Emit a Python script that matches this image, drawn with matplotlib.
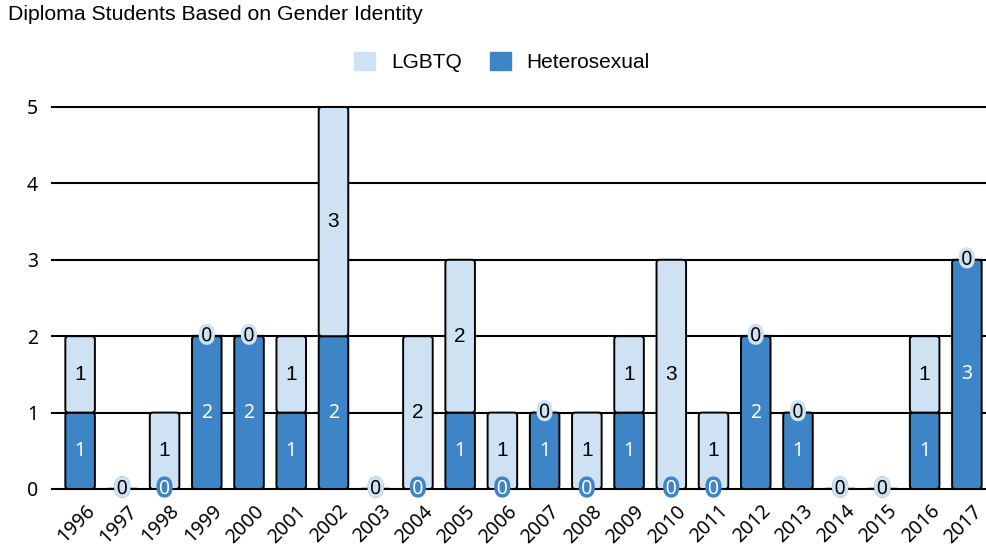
import matplotlib
matplotlib.use("Agg")
import matplotlib.pyplot as plt
import matplotlib.patheffects as pe
import matplotlib.transforms as mtransforms
from matplotlib.patches import FancyBboxPatch
import numpy as np

plt.rcParams['font.family'] = ['Liberation Sans', 'DejaVu Sans']

years = ["1996", "1997", "1998", "1999", "2000", "2001", "2002", "2003", "2004", "2005", "2006",
         "2007", "2008", "2009", "2010", "2011", "2012", "2013", "2014", "2015", "2016", "2017"]
heterosexual = [1, 0, 0, 2, 2, 1, 2, 0, 0, 1, 0, 1, 0, 1, 0, 0, 2, 1, 0, 0, 1, 3]
lgbtq = [1, 0, 1, 0, 0, 1, 3, 0, 2, 2, 1, 0, 1, 1, 3, 1, 0, 0, 0, 0, 1, 0]

c_het = "#3d85c6"
c_lgb = "#cfe2f3"

W, H = 986, 548
fig = plt.figure(figsize=(W / 100, H / 100), dpi=100)
ax_l, ax_r, ax_b, ax_t = 59, 988, 489, 107
ax = fig.add_axes([ax_l / W, (H - ax_b) / H, (ax_r - ax_l) / W, (ax_b - ax_t) / H])

x = np.arange(len(years))
w = 0.70
ax.set_ylim(0, 5)
ax.set_xlim(-0.5, len(years) - 0.5)
for yv in range(0, 6):
    ax.axhline(yv, color="black", lw=1.5, zorder=0.5, clip_on=False, xmin=-7 / (ax_r - ax_l))

px_x = (ax_r - ax_l) / len(years)
px_y = (ax_b - ax_t) / 5.0
rpx = 3.0

def round_bars(container, color):
    for rect in container:
        hgt = rect.get_height()
        if hgt > 0:
            rect.set_visible(False)
            p = FancyBboxPatch((rect.get_x(), rect.get_y()), rect.get_width(), hgt,
                               boxstyle=f"round,pad=0,rounding_size={rpx / px_x}",
                               mutation_aspect=px_x / px_y,
                               facecolor=color, edgecolor="black", linewidth=1.4, zorder=2)
            ax.add_patch(p)

bh = ax.bar(x, heterosexual, w, color=c_het, edgecolor="black", linewidth=1.6, zorder=2, label="Heterosexual")
bl = ax.bar(x, lgbtq, w, bottom=heterosexual, color=c_lgb, edgecolor="black", linewidth=1.6, zorder=2, label="LGBTQ")
round_bars(bh, c_het)
round_bars(bl, c_lgb)

num_font = ['Noto Sans', 'DejaVu Sans']
for i in range(len(years)):
    h = heterosexual[i]
    l = lgbtq[i]
    if h > 0:
        ax.text(x[i], h / 2, str(h), ha="center", va="center", color="white", fontsize=14,
                family=num_font, zorder=4)
    else:
        ax.text(x[i], 0, "0", ha="center", va="center", color="white", fontsize=14, family=num_font,
                zorder=4, path_effects=[pe.withStroke(linewidth=5, foreground=c_het)])
    if l > 0:
        ax.text(x[i], h + l / 2, str(l), ha="center", va="center", color="black", fontsize=15, zorder=5)
    else:
        ax.text(x[i], h, "0", ha="center", va="center", color="black", fontsize=14, family=num_font,
                zorder=5, path_effects=[pe.withStroke(linewidth=5, foreground=c_lgb)])

for s in ax.spines.values():
    s.set_visible(False)
ax.set_yticks(range(0, 6))
ax.set_yticklabels([str(v) for v in range(0, 6)], family=num_font, fontsize=14)
ax.tick_params(axis="y", length=0, pad=15)
ax.set_xticks(x)
ax.set_xticklabels(years, rotation=45, ha="right", va="center", rotation_mode="anchor",
                   fontsize=14, family=num_font)
ax.tick_params(axis="x", length=0, pad=14)
offset = mtransforms.ScaledTranslation(12 / 100, 0, fig.dpi_scale_trans)
for lab in ax.get_xticklabels():
    lab.set_transform(lab.get_transform() + offset)

handles = [FancyBboxPatch((0, 0), 1, 1, boxstyle="round,pad=0,rounding_size=0.15", color=c_lgb),
           FancyBboxPatch((0, 0), 1, 1, boxstyle="round,pad=0,rounding_size=0.15", color=c_het)]
fig.legend(handles, ["LGBTQ", "Heterosexual"], loc="center", bbox_to_anchor=(502 / W, 1 - 62 / H),
           ncol=2, frameon=False, fontsize=15, handlelength=1.0, handleheight=1.0, columnspacing=1.35,
           handletextpad=0.75)

fig.text(8 / W, 1 - 15 / H, "Diploma Students Based on Gender Identity", fontsize=15.3, va="center", ha="left")

fig.savefig("out.png", dpi=100)
